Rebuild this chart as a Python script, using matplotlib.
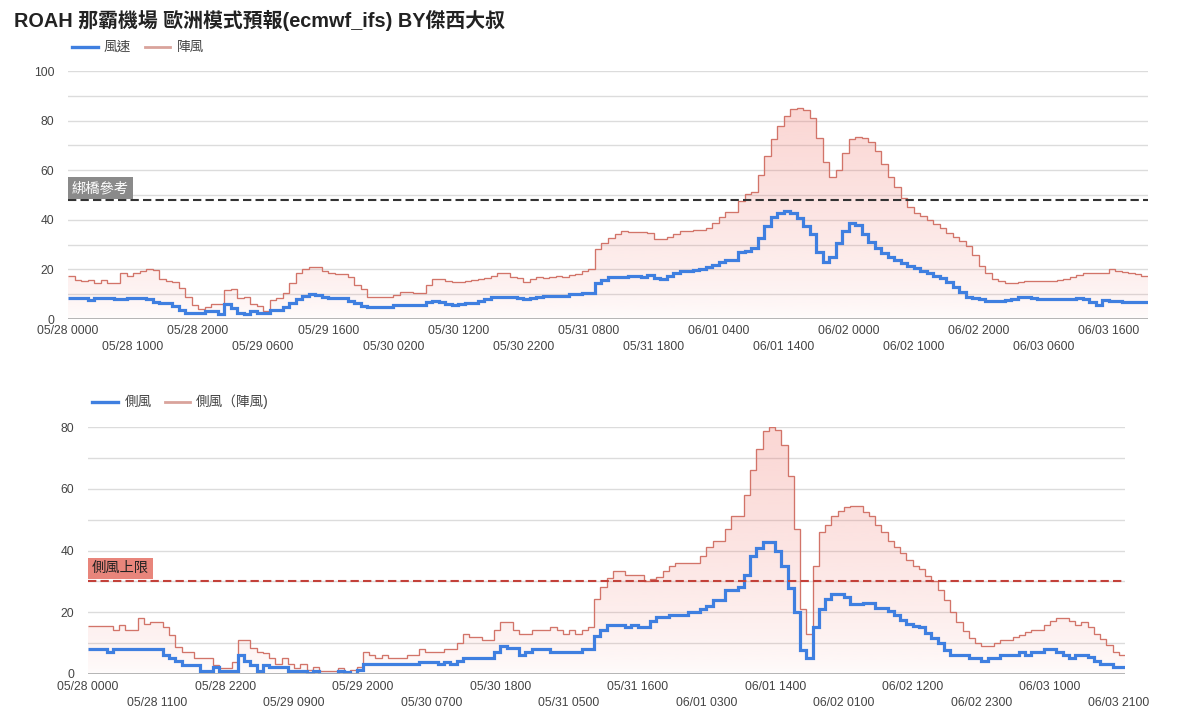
import numpy as np
import matplotlib
matplotlib.use("Agg")
import matplotlib.pyplot as plt
from matplotlib.patches import Polygon
from matplotlib.colors import to_rgb
from matplotlib.lines import Line2D

plt.rcParams['font.family'] = ['Liberation Sans', 'Noto Sans CJK TC']
plt.rcParams['lines.scale_dashes'] = False

# ---------------- data ----------------
title = "ROAH 那霸機場 歐洲模式預報(ecmwf_ifs) BY傑西大叔"

wind_top = [
    8.6, 8.6, 8.6, 7.7, 8.6, 8.6, 8.6, 8.1, 8.1, 8.6,
    8.6, 8.6, 8.2, 7.0, 6.5, 6.3, 5.4, 3.6, 2.3, 2.5,
    2.6, 3.4, 3.4, 1.9, 5.9, 4.3, 2.3, 1.9, 3.4, 2.3,
    2.3, 3.6, 3.6, 5.0, 6.6, 7.9, 9.3, 10.0, 9.6, 9.0,
    8.6, 8.6, 8.4, 7.4, 6.3, 5.2, 4.7, 4.7, 5.0, 5.0,
    5.6, 5.6, 5.6, 5.6, 5.6, 6.9, 7.4, 7.0, 6.0, 5.6,
    6.0, 6.6, 6.6, 7.1, 7.9, 9.0, 9.0, 9.0, 9.0, 8.5,
    7.9, 8.6, 9.0, 9.3, 9.3, 9.3, 9.3, 9.9, 9.9, 10.6,
    10.6, 14.4, 15.7, 16.8, 16.8, 16.8, 17.3, 17.3, 16.8, 17.6,
    16.4, 16.0, 17.3, 18.4, 19.5, 19.5, 19.8, 20.3, 20.8, 21.8,
    23.0, 23.8, 23.8, 26.9, 27.6, 28.5, 32.5, 37.6, 41.3, 42.9,
    43.7, 42.6, 40.6, 37.6, 34.3, 27.2, 23.1, 25.1, 30.8, 35.6,
    38.6, 37.9, 34.3, 31.0, 28.5, 26.7, 25.1, 23.8, 22.7, 21.5,
    20.4, 19.5, 18.4, 17.3, 16.4, 15.1, 13.0, 10.8, 9.0, 8.3,
    7.9, 7.4, 7.4, 7.4, 7.7, 8.2, 8.7, 8.7, 8.5, 8.2,
    8.2, 7.9, 7.9, 7.9, 8.0, 8.5, 8.0, 6.9, 5.6, 7.7,
    7.1, 7.1, 6.7, 6.7, 7.0, 7.0]

gust_top = [
    17.3, 15.7, 15.5, 15.7, 14.4, 15.7, 14.7, 14.4, 18.4, 17.3,
    18.7, 19.4, 20.0, 19.8, 16.1, 15.5, 14.8, 12.6, 9.0, 5.6,
    3.9, 5.0, 5.9, 5.9, 11.7, 12.0, 8.3, 9.0, 5.9, 5.4,
    3.4, 7.7, 8.3, 10.3, 14.4, 18.4, 20.3, 21.1, 21.1, 19.4,
    18.4, 18.0, 18.0, 16.8, 13.7, 12.0, 9.0, 8.7, 8.7, 9.0,
    9.7, 10.8, 10.8, 10.3, 10.3, 13.6, 16.0, 16.0, 15.5, 14.9,
    14.9, 15.2, 15.7, 16.1, 16.4, 17.3, 18.7, 18.7, 17.1, 16.4,
    14.8, 16.1, 16.8, 16.4, 16.8, 17.3, 16.9, 17.7, 18.1, 19.4,
    20.3, 28.4, 30.8, 32.5, 34.3, 35.6, 35.1, 35.1, 35.1, 34.5,
    32.3, 32.3, 33.2, 34.3, 35.5, 35.5, 35.9, 35.9, 36.6, 38.6,
    41.0, 43.3, 43.3, 47.7, 50.4, 51.3, 58.1, 65.9, 72.7, 77.8,
    82.0, 84.5, 85.2, 84.3, 81.2, 73.1, 63.3, 57.4, 60.1, 67.1,
    72.4, 73.5, 72.8, 71.2, 67.7, 62.4, 57.4, 53.1, 48.9, 45.3,
    42.9, 41.7, 39.9, 38.3, 36.6, 34.5, 33.2, 31.6, 29.6, 25.8,
    21.5, 18.4, 16.1, 15.3, 14.7, 14.4, 14.8, 15.3, 15.3, 15.3,
    15.3, 15.5, 15.7, 16.1, 16.8, 17.7, 18.4, 18.7, 18.7, 18.7,
    20.0, 19.5, 19.1, 18.4, 18.0, 17.3]

cross_bottom = [
    8.0, 8.0, 8.0, 7.0, 8.0, 8.0, 8.0, 8.0, 8.0, 8.0,
    8.0, 8.0, 6.1, 5.1, 4.2, 2.9, 2.9, 2.9, 1.1, 1.1,
    2.2, 1.1, 1.1, 1.1, 6.1, 4.2, 2.9, 1.1, 2.9, 2.4,
    2.4, 2.4, 1.1, 1.1, 1.1, 0.2, 1.1, 0.0, 0.0, 0.0,
    1.1, 0.5, 0.0, 1.3, 3.1, 3.1, 3.1, 3.1, 3.1, 3.1,
    3.1, 3.1, 3.1, 4.0, 4.0, 4.0, 3.1, 4.0, 3.1, 4.2,
    5.1, 5.1, 5.1, 5.1, 5.1, 7.0, 9.1, 8.3, 8.3, 6.3,
    7.2, 8.1, 8.1, 8.1, 7.2, 7.2, 7.2, 7.2, 7.2, 8.1,
    8.1, 12.4, 14.2, 16.0, 16.0, 16.0, 15.3, 16.0, 15.3, 15.3,
    17.1, 18.3, 18.3, 19.0, 19.0, 19.0, 20.1, 20.1, 21.0, 22.0,
    23.9, 23.9, 27.1, 27.1, 28.2, 32.2, 38.2, 40.8, 42.9, 42.9,
    40.0, 34.9, 27.8, 20.1, 7.7, 5.1, 15.3, 21.0, 24.2, 26.0,
    26.0, 24.9, 22.8, 22.8, 23.1, 23.1, 21.4, 21.4, 20.3, 19.2,
    17.4, 16.3, 15.6, 15.3, 13.4, 11.7, 9.9, 7.7, 6.3, 6.3,
    6.3, 5.3, 5.3, 4.2, 5.3, 5.3, 6.3, 6.3, 6.3, 7.2,
    6.3, 7.2, 7.2, 8.1, 8.1, 7.2, 6.1, 5.3, 6.3, 6.3,
    5.6, 4.2, 3.4, 3.4, 2.2, 2.2]

cross_gust_bottom = [
    15.5, 15.5, 15.5, 15.5, 14.2, 16.0, 14.2, 14.2, 18.2, 16.1,
    16.9, 16.9, 15.3, 12.6, 8.6, 7.0, 7.0, 5.1, 5.1, 5.1,
    2.9, 2.0, 2.0, 4.0, 11.0, 11.0, 8.3, 7.2, 6.7, 5.1,
    3.1, 5.1, 3.1, 2.0, 3.1, 1.3, 2.2, 1.0, 1.0, 1.0,
    2.0, 0.5, 1.3, 2.4, 7.0, 6.3, 5.1, 6.1, 5.1, 5.1,
    5.1, 6.1, 6.1, 8.0, 7.0, 7.0, 7.0, 8.0, 8.0, 10.1,
    13.0, 12.0, 12.0, 11.0, 11.0, 14.2, 16.9, 16.9, 14.2, 13.1,
    13.1, 14.2, 14.2, 14.2, 15.1, 14.2, 13.1, 14.2, 13.1, 14.2,
    15.1, 24.2, 28.2, 31.2, 33.2, 33.2, 32.2, 32.2, 32.2, 30.1,
    30.9, 31.4, 33.2, 34.9, 36.0, 36.0, 36.0, 36.0, 38.2, 41.1,
    43.0, 43.0, 47.0, 51.1, 51.1, 58.0, 66.1, 73.0, 78.7, 80.0,
    79.0, 74.1, 64.0, 47.0, 21.2, 13.1, 34.9, 46.0, 48.1, 51.1,
    52.9, 54.0, 54.3, 54.3, 52.4, 51.3, 48.3, 45.9, 43.0, 41.1,
    39.2, 36.8, 34.9, 33.9, 31.9, 30.1, 27.1, 23.9, 20.1, 16.9,
    13.9, 11.7, 9.9, 9.1, 9.1, 9.9, 11.0, 11.0, 12.0, 12.6,
    13.7, 14.2, 14.2, 16.0, 17.1, 18.0, 18.0, 17.2, 16.0, 16.9,
    15.3, 13.1, 11.3, 9.4, 7.0, 6.1]

top_tick_labels = ["05/28 0000", "05/28 1000", "05/28 2000", "05/29 0600", "05/29 1600",
                   "05/30 0200", "05/30 1200", "05/30 2200", "05/31 0800", "05/31 1800",
                   "06/01 0400", "06/01 1400", "06/02 0000", "06/02 1000", "06/02 2000",
                   "06/03 0600", "06/03 1600"]
top_tick_step = 10
bottom_tick_labels = ["05/28 0000", "05/28 1100", "05/28 2200", "05/29 0900", "05/29 2000",
                      "05/30 0700", "05/30 1800", "05/31 0500", "05/31 1600", "06/01 0300",
                      "06/01 1400", "06/02 0100", "06/02 1200", "06/02 2300", "06/03 1000",
                      "06/03 2100"]
bottom_tick_step = 11

top_ref_value = 48
top_ref_label = "綁橋參考"
bottom_ref_value = 30
bottom_ref_label = "側風上限"

top_legend = ["風速", "陣風"]
bottom_legend = ["側風", "側風（陣風)"]

# ---------------- style ----------------
W, H = 1187, 723
BLUE = '#3f7fe0'
RED_LINE = '#d27469'
RED_LEG = '#d9a39c'
PINK = '#f06e64'
GRID = '#dcdcdc'
TXT = '#444444'
TICK_FS = 8.7

fig = plt.figure(figsize=(W / 100, H / 100), dpi=100)


def px_axes(l, t, r, b):
    return fig.add_axes([l / W, 1 - b / H, (r - l) / W, (b - t) / H])


def gradient_area(ax, vals, ymax, a0=0.02, a1=0.28, p=0.7):
    n = len(vals)
    edges = np.arange(n + 1)
    xs = np.repeat(edges, 2)[1:-1]
    ys = np.repeat(np.asarray(vals, float), 2)
    verts = [(0, 0)] + list(zip(xs, ys)) + [(n, 0)]
    poly = Polygon(verts, closed=True, fc='none', ec='none')
    ax.add_patch(poly)
    m = 300
    t = np.linspace(0, 1, m)[:, None]
    rgba = np.zeros((m, 1, 4))
    rgba[..., :3] = to_rgb(PINK)
    rgba[..., 3] = a0 + (a1 - a0) * t ** p
    im = ax.imshow(rgba, extent=[0, n, 0, ymax], origin='lower', aspect='auto',
                   zorder=1, interpolation='bilinear')
    im.set_clip_path(poly)


def draw_panel(ax, wind, gust, ymax, major, labels, step, ref_val, ref_lab,
               ref_color, ref_fc, ref_tc, row1, row2, ref_off):
    n = len(wind)
    edges = np.arange(n + 1)
    gradient_area(ax, gust, max(gust))
    ax.stairs(gust, edges, color=RED_LINE, lw=0.95, zorder=2, baseline=None)
    ax.stairs(wind, edges, color=BLUE, lw=2.3, zorder=3, baseline=None)
    ax.set_xlim(0, n)
    ax.set_ylim(0, ymax)
    ax.set_yticks(np.arange(0, ymax + 1, major))
    ax.set_yticks(np.arange(0, ymax + 1, major / 2), minor=True)
    ax.grid(True, which='both', axis='y', color=GRID, lw=1, zorder=0)
    ax.set_axisbelow(True)
    for s in ax.spines.values():
        s.set_visible(False)
    ax.axhline(0, color='#aaaaaa', lw=1.2, zorder=4)
    ax.tick_params(axis='y', which='both', length=0, labelsize=TICK_FS,
                   labelcolor=TXT, pad=10)
    ax.tick_params(axis='x', length=0)
    ax.set_xticks([])
    for k, lab in enumerate(labels):
        off = row1 if k % 2 == 0 else row2
        ax.annotate(lab, xy=(k * step, 0), xycoords=('data', 'axes fraction'),
                    xytext=(0, -off), textcoords='offset pixels', ha='center',
                    va='center', fontsize=TICK_FS, color=TXT, annotation_clip=False)
    ax.axhline(ref_val, color=ref_color, lw=1.5, dashes=(6, 3), zorder=5)
    ax.annotate(ref_lab, xy=(0, ref_val), xycoords='data', xytext=(4, ref_off),
                textcoords='offset pixels', ha='left', va='center',
                fontsize=10.3, color=ref_tc, zorder=6,
                bbox=dict(boxstyle='square,pad=0.25', fc=ref_fc, ec='none'))


ax1 = px_axes(68, 71, 1148, 319)
draw_panel(ax1, wind_top, gust_top, 100, 20, top_tick_labels, top_tick_step,
           top_ref_value, top_ref_label, '#333333', '#8a8a8a', 'white', 12, 28, 12)

ax2 = px_axes(88, 427, 1125, 674)
draw_panel(ax2, cross_bottom, cross_gust_bottom, 80, 20, bottom_tick_labels,
           bottom_tick_step, bottom_ref_value, bottom_ref_label, '#c3413a',
           '#e8857b', '#222222', 13, 29, 13)

# title
fig.text(14 / W, 1 - 20 / H, title, fontsize=14.3, fontweight='bold',
         color='#222222', ha='left', va='center')


def legend(y, items):
    for x0, x1, tx, col, lw, lab in items:
        fig.add_artist(Line2D([x0 / W, x1 / W], [1 - y / H, 1 - y / H],
                              color=col, lw=lw, transform=fig.transFigure))
        fig.text(tx / W, 1 - y / H, lab, fontsize=9.8, color=TXT,
                 ha='left', va='center')


legend(47, [(72, 98, 104, BLUE, 2.4, top_legend[0]),
            (145, 170, 177, RED_LEG, 2.0, top_legend[1])])
legend(402, [(92, 118, 125, BLUE, 2.4, bottom_legend[0]),
             (165, 190, 196, RED_LEG, 2.0, bottom_legend[1])])

fig.savefig('out.png', dpi=100)
